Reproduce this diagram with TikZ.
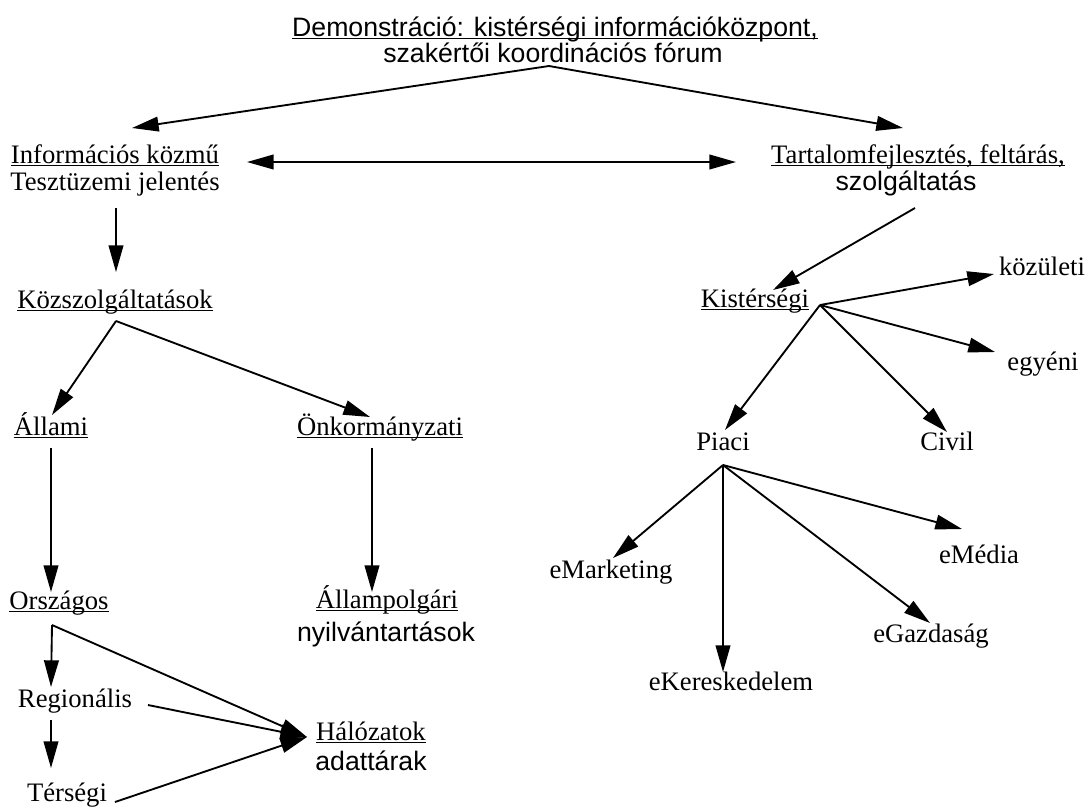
\documentclass[tikz,border=0pt]{standalone}
\usepackage{fontspec}
\setmainfont{Liberation Serif}
\newfontfamily\sansf{Liberation Sans}
\usetikzlibrary{arrows.meta}
\newcommand{\ulx}[1]{\setbox0=\hbox{#1}\rlap{\rule[-0.13em]{\wd0}{0.06em}}\box0}
\begin{document}
\begin{tikzpicture}[x=0.75pt,y=-0.75pt,
  every node/.style={inner sep=0pt,outer sep=0pt,anchor=base,font=\fontsize{20pt}{24pt}\selectfont},
  sf/.style={font=\fontsize{20pt}{24pt}\sansf},
  arr/.style={line width=1.4pt,-{Triangle[length=20pt,width=11pt]}},
  darr/.style={line width=1.4pt,{Triangle[length=20pt,width=11pt]}-{Triangle[length=20pt,width=11pt]}}]
\useasboundingbox (0,0) rectangle (1088,808);
% texts
\node[sf] (t1) at (555,36) {\ulx{Demonstráció: kistérségi információközpont,}};
\node[sf] (t2) at (553,62) {szakértői koordinációs fórum};
\node (info1) at (115,163) {\ulx{Információs közmű}};
\node (info2) at (115,190) {Tesztüzemi jelentés};
\node (tart1) at (918,163) {\ulx{Tartalomfejlesztés, feltárás,}};
\node[sf] (tart2) at (906,190) {szolgáltatás};
\node (kozsz) at (115,308) {\ulx{Közszolgáltatások}};
\node (allami) at (51,435) {\ulx{Állami}};
\node (onk) at (380,435) {\ulx{Önkormányzati}};
\node (orsz) at (59,609) {\ulx{Országos}};
\node (allamp) at (387,608) {\ulx{Állampolgári}};
\node[sf] (nyilv) at (386,641) {nyilvántartások};
\node (reg) at (75,707) {Regionális};
\node (ters) at (67,801) {Térségi};
\node (hal) at (371,740) {\ulx{Hálózatok}};
\node[sf] (adatt) at (371,770) {adattárak};
\node (kist) at (755,307) {\ulx{Kistérségi}};
\node (kozul) at (1042,275) {közületi};
\node (egyeni) at (1043,370) {egyéni};
\node (piaci) at (723,450) {Piaci};
\node (civil) at (947,450) {Civil};
\node (emark) at (611,578) {eMarketing};
\node (eker) at (731,690) {eKereskedelem};
\node (egazd) at (931,642) {eGazdaság};
\node (emedia) at (979,563) {eMédia};
% connector points
\coordinate (tA) at (549,66);
\coordinate (infoT) at (132,128);
\coordinate (tartT) at (903,128);
\coordinate (infoR) at (247,162);
\coordinate (tartL) at (736,162);
\coordinate (infoB) at (116,208);
\coordinate (kozszT) at (116,272);
\coordinate (kozszB) at (116,321);
\coordinate (allamiT) at (52,415);
\coordinate (onkT) at (370,417);
\coordinate (allamiB) at (51,448);
\coordinate (orszT) at (51,592);
\coordinate (onkB) at (372,448);
\coordinate (allampT) at (372,592);
\coordinate (orszB) at (52,625);
\coordinate (regT) at (51,687);
\coordinate (halL) at (307,737);
\coordinate (regR) at (148,705);
\coordinate (regB) at (51,720);
\coordinate (tersT) at (51,768);
\coordinate (tersR) at (115,802);
\coordinate (tartB) at (915,208);
\coordinate (kistT) at (773,290);
\coordinate (kistR) at (820,305);
\coordinate (kozulL) at (994,274);
\coordinate (egyeniL) at (995,352);
\coordinate (piaciT) at (725,430);
\coordinate (civilT) at (947,432);
\coordinate (piaciB) at (723,465);
\coordinate (emarkT) at (613,558);
\coordinate (ekerT) at (723,672);
\coordinate (egazdT) at (930,623);
\coordinate (emediaT) at (962,529);
% connectors
\draw[arr] (tA) -- (infoT);
\draw[arr] (tA) -- (tartT);
\draw[darr] (infoR) -- (tartL);
\draw[arr] (infoB) -- (kozszT);
\draw[arr] (kozszB) -- (allamiT);
\draw[arr] (kozszB) -- (onkT);
\draw[arr] (allamiB) -- (orszT);
\draw[arr] (onkB) -- (allampT);
\draw[arr] (orszB) -- (regT);
\draw[arr] (orszB) -- (halL);
\draw[arr] (regR) -- (halL);
\draw[arr] (regB) -- (tersT);
\draw[arr] (tersR) -- (halL);
\draw[arr] (tartB) -- (kistT);
\draw[arr] (kistR) -- (kozulL);
\draw[arr] (kistR) -- (egyeniL);
\draw[arr] (kistR) -- (piaciT);
\draw[arr] (kistR) -- (civilT);
\draw[arr] (piaciB) -- (emarkT);
\draw[arr] (piaciB) -- (ekerT);
\draw[arr] (piaciB) -- (egazdT);
\draw[arr] (piaciB) -- (emediaT);
\end{tikzpicture}
\end{document}
